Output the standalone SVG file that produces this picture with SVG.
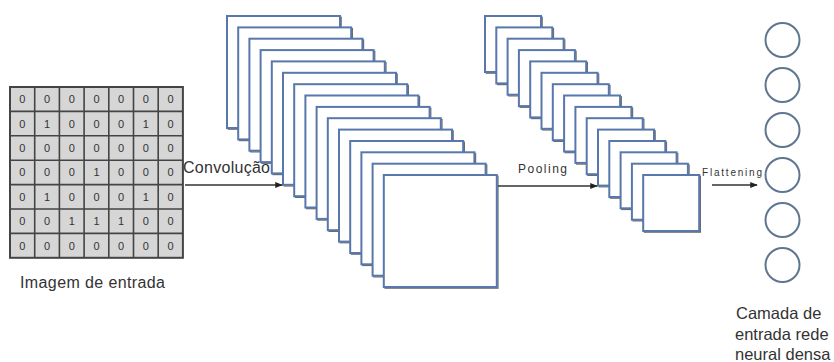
<svg xmlns="http://www.w3.org/2000/svg" width="834" height="362" viewBox="0 0 834 362">
<style>
.lbl{font-family:"Liberation Sans",Arial,sans-serif;fill:#333}
.num{font-family:"Liberation Sans",Arial,sans-serif;font-size:11px;fill:#333;text-anchor:middle}
.fm{fill:#fff;stroke:#5877ab;stroke-width:2}
.sh{fill:none;stroke:#6b6b6b;stroke-width:1.2}
.cir{fill:#fff;stroke:#5f7690;stroke-width:2}
.arr{stroke:#333;stroke-width:1.5;fill:none;marker-end:url(#ah)}
</style>
<defs>
<marker id="ah" viewBox="0 0 10 10" refX="9" refY="5" markerWidth="5" markerHeight="5" orient="auto" markerUnits="strokeWidth">
<path d="M0,1 L10,5 L0,9 z" fill="#222"/>
</marker>
</defs>
<rect width="834" height="362" fill="#fff"/>

<g id="input-image">
<rect x="10" y="87" width="172.9" height="170.8" fill="#d6d6d6" stroke="#444" stroke-width="2"/>
<path d="M34.7,87V257.8M59.4,87V257.8M84.1,87V257.8M108.8,87V257.8M133.5,87V257.8M158.2,87V257.8M10,111.4H182.9M10,135.8H182.9M10,160.2H182.9M10,184.6H182.9M10,209H182.9M10,233.4H182.9" stroke="#444" stroke-width="1.6" fill="none"/>
<g class="num">
<text x="22.35" y="103.2">0</text><text x="47.05" y="103.2">0</text><text x="71.75" y="103.2">0</text><text x="96.45" y="103.2">0</text><text x="121.15" y="103.2">0</text><text x="145.85" y="103.2">0</text><text x="170.55" y="103.2">0</text>
<text x="22.35" y="127.6">0</text><text x="47.05" y="127.6">1</text><text x="71.75" y="127.6">0</text><text x="96.45" y="127.6">0</text><text x="121.15" y="127.6">0</text><text x="145.85" y="127.6">1</text><text x="170.55" y="127.6">0</text>
<text x="22.35" y="152">0</text><text x="47.05" y="152">0</text><text x="71.75" y="152">0</text><text x="96.45" y="152">0</text><text x="121.15" y="152">0</text><text x="145.85" y="152">0</text><text x="170.55" y="152">0</text>
<text x="22.35" y="176.4">0</text><text x="47.05" y="176.4">0</text><text x="71.75" y="176.4">0</text><text x="96.45" y="176.4">1</text><text x="121.15" y="176.4">0</text><text x="145.85" y="176.4">0</text><text x="170.55" y="176.4">0</text>
<text x="22.35" y="200.8">0</text><text x="47.05" y="200.8">1</text><text x="71.75" y="200.8">0</text><text x="96.45" y="200.8">0</text><text x="121.15" y="200.8">0</text><text x="145.85" y="200.8">1</text><text x="170.55" y="200.8">0</text>
<text x="22.35" y="225.2">0</text><text x="47.05" y="225.2">0</text><text x="71.75" y="225.2">1</text><text x="96.45" y="225.2">1</text><text x="121.15" y="225.2">1</text><text x="145.85" y="225.2">0</text><text x="170.55" y="225.2">0</text>
<text x="22.35" y="249.6">0</text><text x="47.05" y="249.6">0</text><text x="71.75" y="249.6">0</text><text x="96.45" y="249.6">0</text><text x="121.15" y="249.6">0</text><text x="145.85" y="249.6">0</text><text x="170.55" y="249.6">0</text>
</g>
<text class="lbl" x="20" y="288" font-size="16" textLength="145">Imagem de entrada</text>
</g>

<g id="conv-maps">
<rect class="sh" x="228.2" y="17.2" width="113" height="112"/><rect class="fm" x="227" y="16" width="113" height="112"/>
<rect class="sh" x="239.4" y="28.6" width="113" height="112"/><rect class="fm" x="238.2" y="27.4" width="113" height="112"/>
<rect class="sh" x="250.6" y="39.9" width="113" height="112"/><rect class="fm" x="249.4" y="38.7" width="113" height="112"/>
<rect class="sh" x="261.8" y="51.3" width="113" height="112"/><rect class="fm" x="260.6" y="50.1" width="113" height="112"/>
<rect class="sh" x="273" y="62.6" width="113" height="112"/><rect class="fm" x="271.8" y="61.4" width="113" height="112"/>
<rect class="sh" x="284.2" y="74" width="113" height="112"/><rect class="fm" x="283" y="72.8" width="113" height="112"/>
<rect class="sh" x="295.4" y="85.4" width="113" height="112"/><rect class="fm" x="294.2" y="84.2" width="113" height="112"/>
<rect class="sh" x="306.6" y="96.7" width="113" height="112"/><rect class="fm" x="305.4" y="95.5" width="113" height="112"/>
<rect class="sh" x="317.8" y="108.1" width="113" height="112"/><rect class="fm" x="316.6" y="106.9" width="113" height="112"/>
<rect class="sh" x="329" y="119.4" width="113" height="112"/><rect class="fm" x="327.8" y="118.2" width="113" height="112"/>
<rect class="sh" x="340.2" y="130.8" width="113" height="112"/><rect class="fm" x="339" y="129.6" width="113" height="112"/>
<rect class="sh" x="351.4" y="142.2" width="113" height="112"/><rect class="fm" x="350.2" y="141" width="113" height="112"/>
<rect class="sh" x="362.6" y="153.5" width="113" height="112"/><rect class="fm" x="361.4" y="152.3" width="113" height="112"/>
<rect class="sh" x="373.8" y="164.9" width="113" height="112"/><rect class="fm" x="372.6" y="163.7" width="113" height="112"/>
<rect class="sh" x="385" y="176.2" width="113" height="112"/><rect class="fm" x="383.8" y="175" width="113" height="112"/>
</g>

<g id="pool-maps">
<rect class="sh" x="486.2" y="17.2" width="56" height="56"/><rect class="fm" x="485" y="16" width="56" height="56"/>
<rect class="sh" x="497.5" y="28.6" width="56" height="56"/><rect class="fm" x="496.3" y="27.4" width="56" height="56"/>
<rect class="sh" x="508.8" y="39.9" width="56" height="56"/><rect class="fm" x="507.6" y="38.7" width="56" height="56"/>
<rect class="sh" x="520.1" y="51.3" width="56" height="56"/><rect class="fm" x="518.9" y="50.1" width="56" height="56"/>
<rect class="sh" x="531.4" y="62.6" width="56" height="56"/><rect class="fm" x="530.2" y="61.4" width="56" height="56"/>
<rect class="sh" x="542.7" y="74" width="56" height="56"/><rect class="fm" x="541.5" y="72.8" width="56" height="56"/>
<rect class="sh" x="554" y="85.4" width="56" height="56"/><rect class="fm" x="552.8" y="84.2" width="56" height="56"/>
<rect class="sh" x="565.3" y="96.7" width="56" height="56"/><rect class="fm" x="564.1" y="95.5" width="56" height="56"/>
<rect class="sh" x="576.6" y="108.1" width="56" height="56"/><rect class="fm" x="575.4" y="106.9" width="56" height="56"/>
<rect class="sh" x="587.9" y="119.4" width="56" height="56"/><rect class="fm" x="586.7" y="118.2" width="56" height="56"/>
<rect class="sh" x="599.2" y="130.8" width="56" height="56"/><rect class="fm" x="598" y="129.6" width="56" height="56"/>
<rect class="sh" x="610.5" y="142.2" width="56" height="56"/><rect class="fm" x="609.3" y="141" width="56" height="56"/>
<rect class="sh" x="621.8" y="153.5" width="56" height="56"/><rect class="fm" x="620.6" y="152.3" width="56" height="56"/>
<rect class="sh" x="633.1" y="164.9" width="56" height="56"/><rect class="fm" x="631.9" y="163.7" width="56" height="56"/>
<rect class="sh" x="644.4" y="176.2" width="56" height="56"/><rect class="fm" x="643.2" y="175" width="56" height="56"/>
</g>

<g id="dense-layer">
<circle class="cir" cx="782.5" cy="40" r="17"/>
<circle class="cir" cx="782.5" cy="85" r="17"/>
<circle class="cir" cx="782.5" cy="130" r="17"/>
<circle class="cir" cx="782.5" cy="175" r="17"/>
<circle class="cir" cx="782.5" cy="220" r="17"/>
<circle class="cir" cx="782.5" cy="265" r="17"/>
<text class="lbl" x="736" y="319" font-size="16.5">Camada de</text>
<text class="lbl" x="735" y="340" font-size="16.5">entrada rede</text>
<text class="lbl" x="735" y="360" font-size="16.5">neural densa</text>
</g>

<g id="connectors">
<line class="arr" x1="185" y1="185" x2="282" y2="185"/>
<text class="lbl" x="183" y="173" font-size="16" textLength="87">Convolução</text>
<line class="arr" x1="498" y1="186" x2="597" y2="186"/>
<text class="lbl" x="518" y="173" font-size="12" textLength="49">Pooling</text>
<line class="arr" x1="712" y1="185" x2="757" y2="185"/>
<text class="lbl" x="702" y="176" font-size="10" textLength="60">Flattening</text>
</g>
</svg>
